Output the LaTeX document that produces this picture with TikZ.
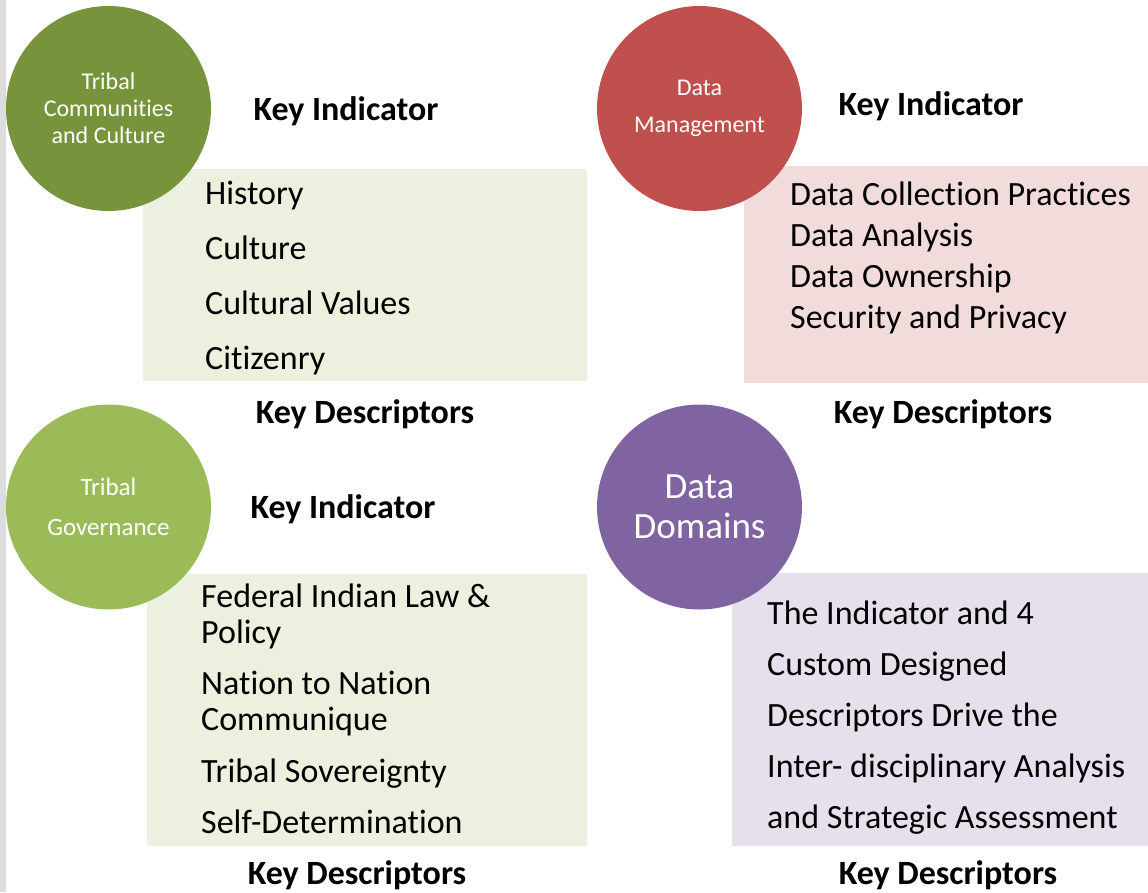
\documentclass[tikz,border=0pt]{standalone}
\usepackage{fontspec}
\setmainfont{Carlito}[Ligatures=NoCommon]
\usetikzlibrary{calc}

\definecolor{olivegreen}{HTML}{77933C}
\definecolor{brickred}{HTML}{C0504D}
\definecolor{leafgreen}{HTML}{9BBB59}
\definecolor{plum}{HTML}{8064A2}
\definecolor{greenbox}{HTML}{EBF1DE}
\definecolor{pinkbox}{HTML}{F2DCDB}
\definecolor{lilacbox}{HTML}{E5E0EC}
\definecolor{stripgray}{HTML}{DDDDDD}

\newcommand{\descfont}{\fontsize{34}{40}\selectfont}
\newcommand{\keyfont}{\fontsize{34}{40}\selectfont\bfseries}

\begin{document}
\begin{tikzpicture}[x=1pt, y=-1pt,
  domaincircle/.style={circle, inner sep=0pt, minimum size=205pt, text=white, align=center},
  keylabel/.style={anchor=base, font=\keyfont},
  descline/.style={anchor=base west, inner sep=0pt, font=\descfont}]

\useasboundingbox (0,0) rectangle (1148,892);
\fill[stripgray] (0,0) rectangle (6,892);

% boxes behind the circles
\fill[greenbox] (143,169) rectangle (587,381);
\fill[pinkbox] (744,166) rectangle (1148,383);
\fill[greenbox] (147,574) rectangle (587,846);
\fill[lilacbox] (732,573) rectangle (1148,846);

% domain circles
\node[domaincircle, fill=olivegreen, font=\fontsize{24}{27}\selectfont] (tcc) at (108.5,108.5) {Tribal\\Communities\\and Culture};
\node[domaincircle, fill=brickred, font=\fontsize{24}{37}\selectfont] (dm) at (699.5,108.5) {Data\\Management};
\node[domaincircle, fill=leafgreen, font=\fontsize{25}{40}\selectfont] (tg) at (108.5,507) {Tribal\\Governance};
\node[domaincircle, fill=plum, font=\fontsize{37}{40}\selectfont] (dd) at (699.5,507) {Data\\Domains};

% key indicator / descriptors labels
\node[keylabel] (tccind) at (346,120) {Key Indicator};
\node[keylabel] (dmind) at (931,115) {Key Indicator};
\node[keylabel] (tgind) at (343,518) {Key Indicator};
\node[keylabel] (tccdesc) at (365,423) {Key Descriptors};
\node[keylabel] (dmdesc) at (943,423) {Key Descriptors};
\node[keylabel] (tgdesc) at (357,884) {Key Descriptors};
\node[keylabel] (dddesc) at (948,884) {Key Descriptors};

% descriptors, first box
\node[descline] (tcc1) at (205,204) {History};
\node[descline] (tcc2) at (205,259) {Culture};
\node[descline] (tcc3) at (205,314) {Cultural Values};
\node[descline] (tcc4) at (205,369) {Citizenry};

% descriptors, second box
\node[descline] (dm1) at (790,205) {Data Collection Practices};
\node[descline] (dm2) at (790,246) {Data Analysis};
\node[descline] (dm3) at (790,287) {Data Ownership};
\node[descline] (dm4) at (790,328) {Security and Privacy};

% descriptors, third box
\node[descline] (tg1) at (201,607) {Federal Indian Law \&};
\node[descline] (tg1b) at (201,643) {Policy};
\node[descline] (tg2) at (201,694) {Nation to Nation};
\node[descline] (tg2b) at (201,730) {Communique};
\node[descline] (tg3) at (201,782) {Tribal Sovereignty};
\node[descline] (tg4) at (201,833) {Self-Determination};

% descriptors, fourth box
\node[descline] (dd1) at (767,624) {The Indicator and 4};
\node[descline] (dd2) at (767,675) {Custom Designed};
\node[descline] (dd3) at (767,726) {Descriptors Drive the};
\node[descline] (dd4) at (767,777) {Inter- disciplinary Analysis};
\node[descline] (dd5) at (767,828) {and Strategic Assessment};

\end{tikzpicture}
\end{document}
